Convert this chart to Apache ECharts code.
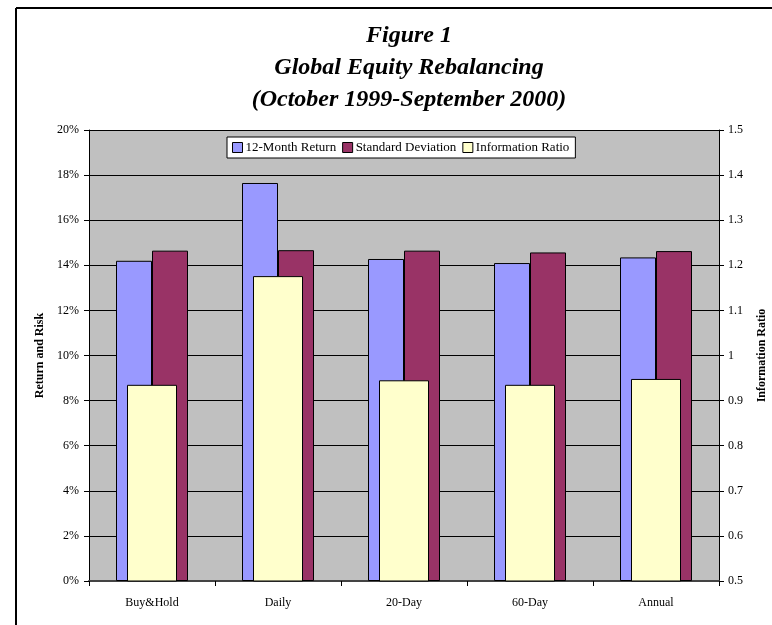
<!DOCTYPE html>
<html>
<head>
<meta charset="utf-8">
<script src="https://cdn.jsdelivr.net/npm/echarts@6/dist/echarts.min.js"></script>
<style>
  html, body { margin: 0; padding: 0; background: #fff; }
  #chart { width: 772px; height: 625px; }
</style>
</head>
<body>
<div id="chart"></div>
<script>
// data
var categories = ['Buy&Hold', 'Daily', '20-Day', '60-Day', 'Annual'];
var returns12m = [14.2, 17.65, 14.28, 14.1, 14.35];   // %
var stdDev = [14.65, 14.67, 14.65, 14.57, 14.63];     // %
var infoRatio = [0.935, 1.176, 0.945, 0.935, 0.948];
var titleLines = ['Figure 1', 'Global Equity Rebalancing', '(October 1999-September 2000)'];

var serif = '"Liberation Serif", "Times New Roman", serif';

var myChart = echarts.init(document.getElementById('chart'));

var option = {
    animation: false,
    backgroundColor: '#fff',
    textStyle: { fontFamily: serif, color: '#000' },
    title: {
        text: titleLines.join('\n'),
        left: 404,
        textAlign: 'center',
        top: 15,
        textStyle: {
            fontFamily: serif,
            fontStyle: 'italic',
            fontWeight: 'bold',
            fontSize: 24,
            lineHeight: 32,
            color: '#000'
        }
    },
    legend: {
        data: ['12-Month Return', 'Standard Deviation', 'Information Ratio'],
        left: 227,
        top: 137,
        padding: [4, 6, 4, 5],
        itemGap: 6,
        itemWidth: 10,
        itemHeight: 10,
        backgroundColor: '#fff',
        borderColor: '#000',
        borderWidth: 1,
        borderRadius: 0,
        icon: 'rect',
        textStyle: { fontFamily: serif, fontSize: 13, color: '#000', padding: [0, 0, 0, -2] },
        itemStyle: { borderColor: '#000', borderWidth: 1 }
    },
    grid: {
        left: 89, right: 53, top: 130, bottom: 44,
        outerBoundsMode: 'none',
        containLabel: false,
        show: true,
        backgroundColor: '#C0C0C0',
        borderWidth: 0
    },
    graphic: [
        { type: 'line', shape: { x1: 16, y1: 8, x2: 16, y2: 625 }, style: { stroke: '#000', lineWidth: 2 } },
        { type: 'line', shape: { x1: 16, y1: 8, x2: 772, y2: 8 }, style: { stroke: '#000', lineWidth: 2 } }
    ],
    xAxis: [
        {
            type: 'category',
            data: categories,
            axisLine: { lineStyle: { color: '#444', width: 2 } },
            axisTick: { show: true, length: 5, lineStyle: { color: '#000' } },
            axisLabel: { fontFamily: serif, fontSize: 12, color: '#000', margin: 16 }
        },
        {
            type: 'category',
            data: categories,
            show: false
        }
    ],
    yAxis: [
        {
            type: 'value',
            name: 'Return and Risk',
            nameLocation: 'middle',
            nameGap: 41,
            nameTextStyle: { fontFamily: serif, fontWeight: 'bold', fontSize: 12, color: '#000' },
            min: 0, max: 20, interval: 2,
            axisLine: { show: true, lineStyle: { color: '#000' } },
            axisTick: { show: true, length: 5, lineStyle: { color: '#000' } },
            axisLabel: { formatter: '{value}%', fontFamily: serif, fontSize: 12, color: '#000', margin: 10 },
            splitLine: { show: true, lineStyle: { color: '#000', width: 1 } }
        },
        {
            type: 'value',
            name: 'Information Ratio',
            nameLocation: 'middle',
            nameGap: 37,
            nameTextStyle: { fontFamily: serif, fontWeight: 'bold', fontSize: 12, color: '#000' },
            min: 0.5, max: 1.5, interval: 0.1,
            axisLine: { show: true, lineStyle: { color: '#000' } },
            axisTick: { show: true, length: 5, lineStyle: { color: '#000' } },
            axisLabel: {
                fontFamily: serif, fontSize: 12, color: '#000', margin: 9,
                formatter: function (v) { return String(Math.round(v * 10) / 10); }
            },
            splitLine: { show: false }
        }
    ],
    series: [
        {
            name: '12-Month Return',
            type: 'bar',
            xAxisIndex: 0, yAxisIndex: 0,
            data: returns12m,
            barWidth: 36,
            barGap: '0%',
            itemStyle: { color: '#9999FF', borderColor: '#000', borderWidth: 1 }
        },
        {
            name: 'Standard Deviation',
            type: 'bar',
            xAxisIndex: 0, yAxisIndex: 0,
            data: stdDev,
            barWidth: 36,
            barGap: '0%',
            itemStyle: { color: '#993366', borderColor: '#000', borderWidth: 1 }
        },
        {
            name: 'Information Ratio',
            type: 'bar',
            xAxisIndex: 1, yAxisIndex: 1,
            data: infoRatio,
            barWidth: 50,
            z: 3,
            itemStyle: { color: '#FFFFCC', borderColor: '#000', borderWidth: 1 }
        }
    ]
};

myChart.setOption(option);
</script>
</body>
</html>
